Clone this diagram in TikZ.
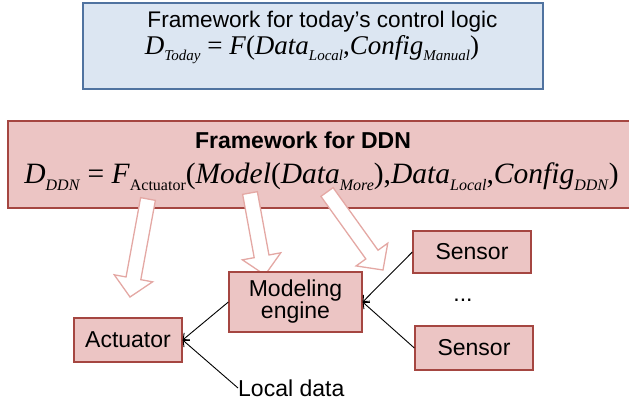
\documentclass[tikz,border=0pt]{standalone}
\usepackage{fontspec}
\setmainfont{Liberation Serif}
\newfontfamily\arial{Liberation Sans}
\usetikzlibrary{calc,arrows.meta}
\definecolor{pfill}{RGB}{236,197,196}
\definecolor{pdraw}{RGB}{165,70,65}
\definecolor{bfill}{RGB}{220,230,242}
\definecolor{bdraw}{RGB}{80,115,160}
\definecolor{aout}{RGB}{228,168,164}
\newcommand{\sbs}[1]{\raisebox{-6pt}{\fontsize{15}{15}\selectfont #1}}
\newcommand{\sbb}[1]{\raisebox{-7pt}{\fontsize{16}{16}\selectfont #1}}
\newcommand{\iv}[1]{\textit{#1}}
\newcommand{\blockarr}[2]{%
  \coordinate (hb) at ($(#2)!19pt!(#1)$);
  \draw[blk] ($(#1)!7.5pt!90:(#2)$) -- ($(hb)!7.5pt!90:(#2)$) -- ($(hb)!19.5pt!90:(#2)$)
    -- (#2) -- ($(hb)!19.5pt!-90:(#2)$) -- ($(hb)!7.5pt!-90:(#2)$) -- ($(#1)!7.5pt!-90:(#2)$) -- cycle;}
\tikzset{
  pbox/.style={draw=pdraw, fill=pfill, line width=1.3pt, inner sep=0pt, font=\arial\fontsize{23}{25}\selectfont, align=center},
  bbox/.style={draw=bdraw, fill=bfill, line width=1.3pt, inner sep=0pt},
  blk/.style={draw=aout, fill=white, line width=1.3pt, line join=miter},
  conn/.style={draw=black, line width=0.9pt, -{Straight Barb[length=5pt,width=9pt]}},
  lbl/.style={font=\arial\fontsize{23}{25}\selectfont, inner sep=0pt}
}
\begin{document}
\begin{tikzpicture}[x=1pt,y=-1pt]
\useasboundingbox (0,0) rectangle (629,402);
% top box
\node[bbox, minimum width=460pt, minimum height=86pt] (today) at (313,46) {};
\node[lbl, anchor=base, font=\arial\fontsize{22.6}{25}\selectfont] (todayt) at (322.5,27) {Framework for today’s control logic};
\node[inner sep=0pt, anchor=base, font=\fontsize{27}{27}\selectfont] (todayf) at (312,54)
  {\iv{D}\sbs{\iv{Today}} = \iv{F}(\iv{Data}\sbs{\iv{Local}},\iv{Config}\sbs{\iv{Manual}})};
% DDN box
\node[draw=pdraw, fill=pfill, line width=1.3pt, minimum width=640pt, minimum height=87pt, inner sep=0pt] (ddn) at (328,164.5) {};
\node[lbl, anchor=base, font=\arial\bfseries\fontsize{23}{25}\selectfont] (ddnt) at (303,148) {Framework for DDN};
\node[inner sep=0pt, anchor=base, font=\fontsize{29.5}{29.5}\selectfont] (ddnf) at (321.5,183)
  {\iv{D}\sbb{\iv{DDN}} = \iv{F}\sbb{Actuator}(\iv{Model}(\iv{Data}\sbb{\iv{More}}),\iv{Data}\sbb{\iv{Local}},\iv{Config}\sbb{\iv{DDN}})};
% block arrows
\coordinate (t1) at (148,199); \coordinate (p1) at (130,297);
\coordinate (t2) at (250,193); \coordinate (p2) at (265,275);
\coordinate (t3) at (327,192); \coordinate (p3) at (383,270);
\blockarr{t1}{p1}
\blockarr{t2}{p2}
\blockarr{t3}{p3}
% nodes
\node[pbox, minimum width=118pt, minimum height=42pt] (s1) at (472,252) {Sensor};
\node[pbox, minimum width=133pt, minimum height=60pt] (model) at (295.5,302) {Modeling\\[-3pt]engine};
\node[pbox, minimum width=108pt, minimum height=44pt] (act) at (128,340) {Actuator};
\node[pbox, minimum width=118pt, minimum height=44pt] (s2) at (474,348) {Sensor};
\node[lbl] (dots) at (463,300) {...};
\node[lbl, anchor=west] (local) at (238,388) {Local data};
% connectors
\draw[conn] (s1.west) -- (model.east);
\draw[conn] (s2.west) -- (model.east);
\draw[conn] (model.west) -- (act.east);
\draw[conn] (local.west) -- (act.east);
\end{tikzpicture}
\end{document}
